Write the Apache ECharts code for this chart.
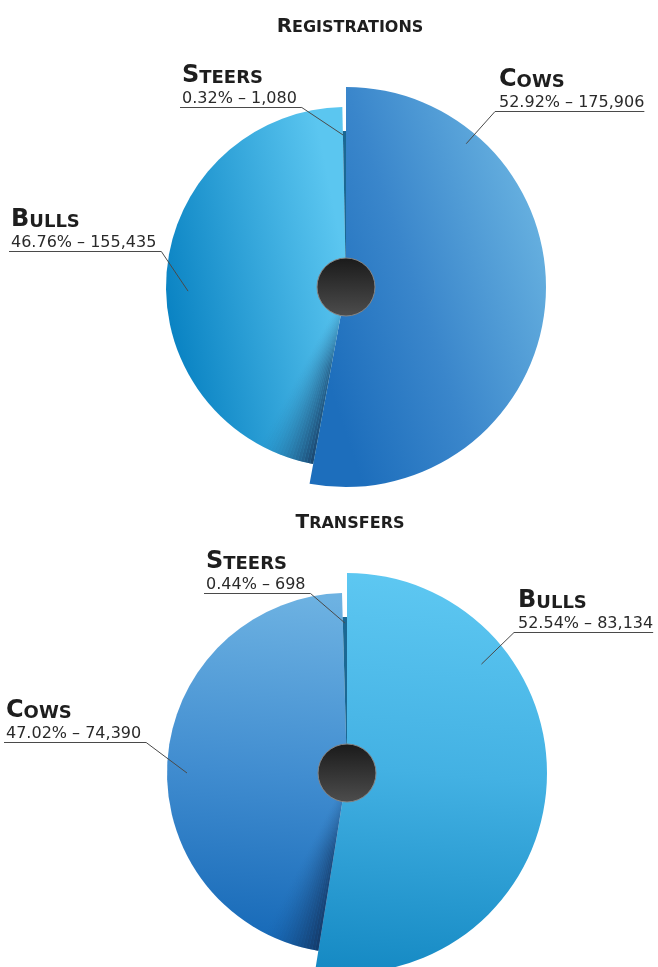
<!DOCTYPE html>
<html>
<head>
<meta charset="utf-8">
<script src="https://cdn.jsdelivr.net/npm/echarts@6/dist/echarts.min.js"></script>
<style>
  html, body { margin: 0; padding: 0; background: #ffffff; }
  #chart { width: 658px; height: 967px; }
</style>
</head>
<body>
<div id="chart"></div>
<script>
// ---- data ----
const chartTitles = ['Registrations', 'Transfers'];

const registrationCategories = ['Cows', 'Bulls', 'Steers'];
const registrationValues = [175906, 155435, 1080];

const transferCategories = ['Bulls', 'Cows', 'Steers'];
const transferValues = [83134, 74390, 698];

// ---- styling / layout ----
const G = echarts.graphic;
const sliceRadii = [200, 180, 156];          // by size rank: largest slice sticks out
const hubRadius = 29;
const pieCenters = [[346, 287], [347, 773]];
const titlePositions = [[350, 13], [350, 509]];

const registrationFills = {
  Cows: new G.LinearGradient(1, 0.4, 0, 0.6, [
    { offset: 0, color: '#65afdf' }, { offset: 0.55, color: '#3a86cb' }, { offset: 1, color: '#1d6ebc' }]),
  Bulls: new G.LinearGradient(0, 0.55, 1, 0.45, [
    { offset: 0, color: '#0a83c3' }, { offset: 1, color: '#5bc6f0' }]),
  Steers: '#1b6893'
};
const transferFills = {
  Bulls: new G.LinearGradient(0.55, 0, 0.4, 1, [
    { offset: 0, color: '#5ec8f2' }, { offset: 0.5, color: '#43b1e3' }, { offset: 1, color: '#168ac4' }]),
  Cows: new G.LinearGradient(0.6, 0, 0.4, 1, [
    { offset: 0, color: '#6db2e2' }, { offset: 0.5, color: '#418dd0' }, { offset: 1, color: '#1467b6' }]),
  Steers: '#1b6893'
};

// where each callout sits: anchor on the slice (angle clockwise from 12 o'clock, radius),
// text left edge and underline height
const registrationCallouts = {
  Cows:   { angle: 40,    r: 187, x: 499, lineY: 111, side: 'right' },
  Bulls:  { angle: 268.5, r: 158, x: 11,  lineY: 251, side: 'left' },
  Steers: { angle: 358.9, r: 152, x: 182, lineY: 107, side: 'left' }
};
const transferCallouts = {
  Bulls:  { angle: 51,    r: 173, x: 518, lineY: 632, side: 'right' },
  Cows:   { angle: 270,   r: 160, x: 6,   lineY: 742, side: 'left' },
  Steers: { angle: 359.2, r: 150, x: 206, lineY: 593, side: 'left' }
};

const labelRich = {
  cap: { fontFamily: 'DejaVu Sans', fontWeight: 'bold', fontSize: 24, color: '#1e1e1e', verticalAlign: 'bottom', lineHeight: 28 },
  low: { fontFamily: 'DejaVu Sans', fontWeight: 'bold', fontSize: 18, color: '#1e1e1e', verticalAlign: 'bottom', lineHeight: 28, padding: [0, 0, 1, 0] },
  val: { fontFamily: 'DejaVu Sans', fontSize: 16, color: '#2a2a2a', lineHeight: 22 }
};

const CLEAR = 'rgba(0,0,0,0)';

function smallCaps(word, capKey, lowKey) {
  return '{' + capKey + '|' + word.charAt(0).toUpperCase() + '}{' + lowKey + '|' + word.slice(1).toUpperCase() + '}';
}

function calloutLayout(categories, center, callouts) {
  return function (params) {
    const spec = callouts[categories[params.dataIndex]];
    if (!spec) return {};
    const a = spec.angle * Math.PI / 180;
    const ax = center[0] + spec.r * Math.sin(a);
    const ay = center[1] - spec.r * Math.cos(a);
    const w = params.labelRect.width;
    const y = spec.lineY + 0.5;
    const pts = spec.side === 'right'
      ? [[ax, ay], [spec.x - 4, y], [spec.x + w, y]]
      : [[ax, ay], [spec.x + w + 5, y], [spec.x - 2, y]];
    return { x: spec.x, y: spec.lineY + 3, align: 'left', verticalAlign: 'bottom', labelLinePoints: pts };
  };
}

function pieBase(center, radius, z) {
  return {
    type: 'pie', center: center, radius: radius,
    startAngle: 90, clockwise: true, avoidLabelOverlap: false,
    silent: true, z: z, emphasis: { disabled: true }
  };
}

function piesFor(categories, values, center, fills, callouts) {
  const ranked = values.map((v, i) => i).sort((a, b) => values[b] - values[a]);
  const list = [];

  // one series per slice so each can have its own radius
  categories.forEach((name, i) => {
    list.push(Object.assign(pieBase(center, [0, sliceRadii[ranked.indexOf(i)]], 2), {
      label: { show: false }, labelLine: { show: false },
      data: categories.map((n, j) => ({
        name: n, value: values[j],
        itemStyle: { color: j === i ? fills[n] : CLEAR }
      }))
    }));
  });

  // soft shadow cast by the raised slice onto its neighbour
  const total = values.reduce((s, v) => s + v, 0);
  const steps = 18, stepDeg = 1.0;
  const stepVal = total * stepDeg / 360;
  const shadowData = [{ value: values[ranked[0]], itemStyle: { color: CLEAR } }];
  for (let k = 0; k < steps; k++) {
    const alpha = 0.8 * Math.pow(1 - k / steps, 1.6);
    shadowData.push({
      value: stepVal,
      itemStyle: {
        color: new G.LinearGradient(0, 0, 0, 1, [
          { offset: 0, color: 'rgba(20,48,88,' + (alpha * 0.2).toFixed(3) + ')' },
          { offset: 0.35, color: 'rgba(20,48,88,' + (alpha * 0.75).toFixed(3) + ')' },
          { offset: 1, color: 'rgba(20,48,88,' + alpha.toFixed(3) + ')' }])
      }
    });
  }
  shadowData.push({ value: total - values[ranked[0]] - steps * stepVal, itemStyle: { color: CLEAR } });
  list.push(Object.assign(pieBase(center, [hubRadius, sliceRadii[1]], 3), {
    label: { show: false }, labelLine: { show: false },
    data: shadowData
  }));

  // dark hub
  list.push(Object.assign(pieBase(center, [0, hubRadius], 4), {
    label: { show: false }, labelLine: { show: false },
    itemStyle: {
      color: new G.LinearGradient(0, 0, 0, 1, [
        { offset: 0, color: '#1a1a1a' }, { offset: 1, color: '#4d4d4d' }]),
      borderColor: '#858585', borderWidth: 1
    },
    data: [{ value: 1 }]
  }));

  // callouts on top of everything
  list.push(Object.assign(pieBase(center, [0, sliceRadii[0]], 5), {
    label: {
      show: true,
      position: 'outside',
      formatter: p => smallCaps(p.name, 'cap', 'low') + '\n{val|' +
        p.percent.toFixed(2) + '% \u2013 ' + p.value.toLocaleString('en-US') + '}',
      rich: labelRich
    },
    labelLine: { show: true, smooth: false, lineStyle: { color: '#4a4a4a', width: 1 } },
    labelLayout: calloutLayout(categories, center, callouts),
    itemStyle: { color: CLEAR },
    data: categories.map((n, j) => ({ name: n, value: values[j] }))
  }));
  return list;
}

const titleRich = {
  cap: { fontFamily: 'DejaVu Sans', fontWeight: 'bold', fontSize: 20, color: '#1e1e1e', verticalAlign: 'bottom', lineHeight: 24 },
  low: { fontFamily: 'DejaVu Sans', fontWeight: 'bold', fontSize: 16, color: '#1e1e1e', verticalAlign: 'bottom', lineHeight: 24, padding: [0, 0, 1, 0] }
};

const chart = echarts.init(document.getElementById('chart'), null, { renderer: 'canvas' });
chart.setOption({
  backgroundColor: '#ffffff',
  animation: false,
  title: chartTitles.map((t, i) => ({
    text: smallCaps(t, 'cap', 'low'),
    left: titlePositions[i][0],
    top: titlePositions[i][1],
    textAlign: 'center',
    padding: 0,
    textStyle: { rich: titleRich }
  })),
  series: [].concat(
    piesFor(registrationCategories, registrationValues, pieCenters[0], registrationFills, registrationCallouts),
    piesFor(transferCategories, transferValues, pieCenters[1], transferFills, transferCallouts)
  )
});
</script>
</body>
</html>
